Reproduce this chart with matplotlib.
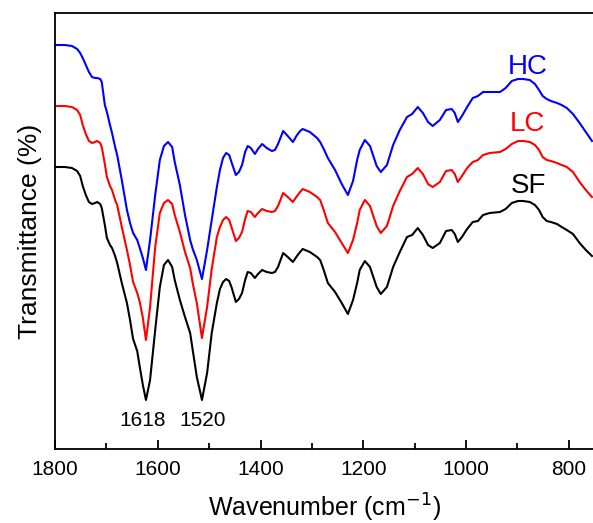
import matplotlib
matplotlib.use("Agg")
import matplotlib.pyplot as plt
from matplotlib.ticker import MultipleLocator

plt.rcParams['font.family'] = ['Liberation Sans', 'DejaVu Sans']

wavenumber = [1800, 1781, 1767, 1757, 1751, 1746, 1740, 1734, 1728, 1722, 1718, 1712,
              1709, 1703, 1699, 1693, 1689, 1683, 1679, 1670, 1660, 1654, 1648, 1640,
              1635, 1629, 1623, 1615, 1605, 1596, 1588, 1580, 1572, 1567, 1557, 1547,
              1537, 1532, 1524, 1514, 1504, 1495, 1485, 1479, 1473, 1467, 1461, 1456,
              1448, 1442, 1436, 1430, 1425, 1419, 1411, 1405, 1397, 1388, 1378, 1372,
              1366, 1356, 1347, 1337, 1329, 1323, 1318, 1304, 1290, 1284, 1277, 1269,
              1255, 1242, 1230, 1220, 1212, 1207, 1197, 1187, 1174, 1166, 1154, 1142,
              1129, 1115, 1105, 1094, 1084, 1074, 1065, 1051, 1039, 1028, 1022, 1016,
              1008, 998, 987, 977, 967, 954, 934, 923, 911, 899, 889, 876,
              866, 858, 851, 843, 835, 823, 814, 804, 792, 779, 767, 755]

# transmittance (arbitrary units, vertically offset traces)
sf = [282, 282, 281, 278, 273, 263, 254, 247, 245, 246, 247, 245,
      241, 224, 211, 204, 201, 193, 186, 166, 146, 129, 110, 98,
      82, 64, 49, 69, 119, 162, 184, 189, 182, 169, 149, 132,
      116, 99, 72, 49, 76, 116, 146, 160, 167, 170, 168, 161,
      147, 150, 156, 169, 177, 176, 171, 175, 179, 177, 176, 177,
      182, 196, 192, 187, 193, 197, 200, 197, 192, 189, 179, 166,
      157, 146, 135, 149, 166, 179, 188, 182, 162, 155, 162, 182,
      197, 212, 214, 221, 214, 204, 201, 206, 218, 219, 215, 207,
      212, 220, 227, 228, 234, 236, 237, 240, 246, 248, 248, 247,
      244, 239, 232, 228, 227, 225, 222, 219, 215, 206, 199, 193]

lc = [343, 343, 342, 339, 334, 324, 315, 308, 306, 307, 308, 306,
      302, 285, 272, 263, 259, 249, 244, 222, 199, 184, 167, 156,
      147, 131, 109, 142, 202, 236, 246, 249, 245, 234, 217, 197,
      181, 166, 146, 111, 142, 180, 212, 222, 229, 232, 229, 221,
      208, 211, 217, 230, 238, 237, 232, 236, 240, 238, 237, 238,
      243, 256, 252, 247, 253, 257, 260, 257, 252, 249, 239, 226,
      217, 206, 196, 209, 226, 239, 249, 243, 223, 216, 223, 243,
      258, 272, 275, 281, 275, 265, 262, 267, 278, 279, 275, 267,
      273, 281, 287, 289, 294, 296, 297, 300, 305, 308, 308, 307,
      304, 299, 292, 289, 288, 286, 284, 282, 277, 267, 259, 252]

hc = [404, 404, 403, 400, 396, 391, 384, 377, 372, 371, 371, 370,
      367, 344, 337, 324, 316, 302, 294, 269, 239, 226, 216, 209,
      201, 191, 179, 209, 254, 289, 303, 307, 302, 287, 264, 234,
      209, 200, 189, 170, 199, 229, 262, 279, 291, 296, 294, 286,
      274, 277, 284, 297, 303, 301, 295, 300, 305, 301, 298, 299,
      305, 318, 313, 307, 314, 318, 320, 317, 311, 307, 300, 291,
      279, 265, 254, 268, 289, 299, 309, 303, 283, 277, 284, 304,
      319, 332, 335, 342, 336, 327, 323, 329, 339, 340, 336, 327,
      333, 342, 351, 353, 357, 357, 357, 361, 368, 370, 370, 369,
      365, 359, 353, 350, 348, 346, 344, 341, 335, 326, 317, 308]

series_names = ['SF', 'LC', 'HC']
series_colors = ['black', 'red', 'blue']
peak_labels = ['1618', '1520']

fig = plt.figure(figsize=(5.93, 5.23), dpi=100)
ax = fig.add_axes([55 / 593, (523 - 449) / 523, (593 - 55) / 593, (449 - 13) / 523])

for ys, c in zip([sf, lc, hc], series_colors):
    ax.plot(wavenumber, ys, color=c, lw=1.5, solid_joinstyle='round')

ax.set_xlim(1800, 753)
ax.set_ylim(0, 436)
ax.xaxis.set_major_locator(MultipleLocator(200))
ax.xaxis.set_minor_locator(MultipleLocator(100))
ax.set_yticks([])
ax.spines['right'].set_visible(False)
for s in ['left', 'top', 'bottom']:
    ax.spines[s].set_linewidth(1.3)
ax.tick_params(axis='x', which='major', direction='in', length=6.5, width=1.3,
               labelsize=15, pad=8, top=False)
ax.tick_params(axis='x', which='minor', direction='in', length=4.3, width=1.3, top=False)

ax.set_xlabel('Wavenumber (cm$^{-1}$)', fontsize=18, labelpad=9)
ax.set_ylabel('Transmittance (%)', fontsize=19, labelpad=9)

# series labels
label_pos = {'HC': (880, 382), 'LC': (880, 325), 'SF': (878, 263)}
for name, c in zip(series_names, series_colors):
    x, y = label_pos[name]
    ax.text(x, y, name, color=c, fontsize=20, ha='center', va='center')

# peak labels
ax.text(1629, 29, peak_labels[0], fontsize=15, ha='center', va='center')
ax.text(1512, 29, peak_labels[1], fontsize=15, ha='center', va='center')

fig.savefig('out.png', dpi=100)
